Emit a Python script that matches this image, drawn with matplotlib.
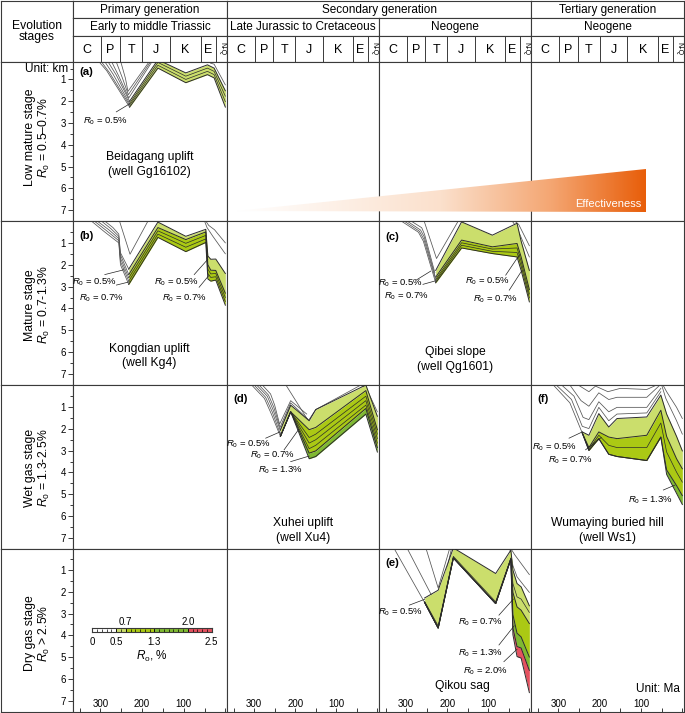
import numpy as np
import matplotlib.pyplot as plt
from matplotlib.colors import LinearSegmentedColormap
from matplotlib.patches import Polygon

plt.rcParams['font.family'] = ['Liberation Sans', 'DejaVu Sans']
plt.rcParams['mathtext.fontset'] = 'custom'
plt.rcParams['mathtext.rm'] = 'Liberation Sans'
plt.rcParams['mathtext.it'] = 'Liberation Sans:italic'

# layout in pixels
W, H = 685, 713
col_x = [73, 227, 379, 531, 684]
row_y = [62, 221, 385, 549, 712]
head_y = [1, 18, 36, 62]
age_lim = (366, -4)
depth_lims = [(7.32, 0.2), (7.3, 0.0), (7.34, 0.0), (7.37, 0.05)]
EDGE = '#3a3a3a'

# header text
generations = ["Primary generation", "Secondary generation", "Tertiary generation"]
gen_span = [(0, 1), (1, 3), (3, 4)]
episodes = ["Early to middle Triassic", "Late Jurassic to Cretaceous", "Neogene", "Neogene"]
periods = ["C", "P", "T", "J", "K", "E", "N-Q"]
period_bounds = [366, 298, 253, 200, 133, 59, 23, -4]

stages = ["Low mature stage", "Mature stage", "Wet gas stage", "Dry gas stage"]
stage_ro = [r"$R_{\rm o}$ = 0.5–0.7%", r"$R_{\rm o}$ = 0.7-1.3%",
            r"$R_{\rm o}$ = 1.3-2.5%", r"$R_{\rm o}$ > 2.5%"]
stage_y = [137, 305, 468, 633]

# Ro colours
c_lo, c_mid, c_gr, c_red = '#cbde6c', '#abc914', '#7fb932', '#e4515f'

# ---- (a) Beidagang uplift, age (Ma) / depth (km)
a_age = [230, 162, 95, 43, 27, 0]
a_ro05 = [2.0, 0.1, 0.7, 0.33, 0.48, 1.52]
a_in1 = [2.1, 0.22, 0.85, 0.48, 0.63, 1.77]
a_in2 = [2.18, 0.35, 1.0, 0.63, 0.78, 2.02]
a_base = [2.27, 0.48, 1.15, 0.78, 0.93, 2.27]
a_strata = [([312, 285, 230], [0.0, 0.6, 2.27]),
            ([305, 278, 230], [0.0, 0.7, 2.18]),
            ([296, 270, 230], [0.0, 0.75, 2.1]),
            ([288, 262, 230], [0.0, 0.8, 2.0]),
            ([278, 256, 232, 170], [0.0, 0.85, 1.85, 0.0]),
            ([266, 248, 233, 173], [0.0, 0.9, 1.7, 0.0]),
            ([254, 240, 234, 176], [0.0, 0.95, 1.55, 0.0]),
            ([46, 36, 27, 0], [0.0, 0.25, 0.3, 1.25])]
a_notes = [("0.5", 289, 2.93, 262, 2.49, 230, 2.12)]

# ---- (b) Kongdian uplift
b_age = [232, 162, 95, 47, 42, 35, 23, 0]
b_ro05 = [2.2, 0.05, 0.7, 0.38, 1.6, 1.75, 1.74, 2.4]
b_ro07 = [2.45, 0.3, 0.85, 0.5, 2.0, 2.25, 2.26, 3.3]
b_in1 = [2.6, 0.45, 1.02, 0.66, 2.2, 2.42, 2.4, 3.5]
b_in2 = [2.75, 0.6, 1.2, 0.82, 2.4, 2.58, 2.55, 3.68]
b_base = [2.9, 0.75, 1.4, 0.98, 2.65, 2.75, 2.7, 3.85]
b_strata = [([322, 290, 256, 252, 232], [0.0, 0.5, 1.0, 2.0, 2.9]),
            ([315, 285, 256, 252, 232], [0.0, 0.45, 0.9, 1.85, 2.75]),
            ([308, 280, 256, 252, 232], [0.0, 0.4, 0.8, 1.7, 2.6]),
            ([298, 275, 256, 252, 232], [0.0, 0.35, 0.7, 1.55, 2.45]),
            ([290, 270, 256, 252, 232], [0.0, 0.3, 0.6, 1.45, 2.2]),
            ([256, 229, 183], [-0.1, 1.52, -0.1]),
            ([50, 44, 30, 0], [0.0, 0.3, 0.7, 1.5]),
            ([47, 40, 26, 0], [0.0, 0.2, 0.4, 1.0])]
b_notes = [("0.5", 313.5, 2.81, 289.6, 2.45, 243.6, 2.23),
           ("0.7", 297.5, 3.52, 261.7, 2.93, 230, 2.78),
           ("0.5", 118.5, 2.81, 74.8, 2.45, 42, 1.75),
           ("0.7", 98.7, 3.52, 63, 3.03, 40, 2.5)]

# ---- (c) Qibei slope
c_age = [228, 165, 90, 30, 20, 0]
c_ro05 = [2.2, 0.04, 0.63, 0.1, 0.9, 2.2]
c_ro07 = [2.5, 0.85, 1.15, 1.0, 1.6, 3.05]
c_in1 = [2.6, 0.97, 1.25, 1.2, 1.8, 3.25]
c_in2 = [2.68, 1.08, 1.35, 1.4, 2.0, 3.42]
c_base = [2.75, 1.2, 1.45, 1.6, 2.2, 3.6]
c_strata = [([312, 270, 258, 228], [0.0, 0.5, 0.9, 2.75]),
            ([305, 268, 257, 228], [0.0, 0.45, 0.8, 2.62]),
            ([298, 265, 256, 229], [0.0, 0.4, 0.7, 2.48]),
            ([288, 262, 255, 230], [0.0, 0.3, 0.6, 2.3]),
            ([258, 226, 170], [-0.1, 1.67, -0.1]),
            ([42, 30, 0], [0.0, 0.3, 1.6]),
            ([36, 26, 0], [0.0, 0.15, 1.1])]
c_notes = [("0.5", 312.5, 2.78, 275.5, 2.63, 240, 2.23),
           ("0.7", 300, 3.34, 259, 2.82, 228, 2.66),
           ("0.5", 102.8, 2.7, 57.6, 2.41, 24, 1.5),
           ("0.7", 82, 3.48, 49, 3.08, 18, 2.2)]

# ---- (d) Xuhei uplift
d_age = [236, 211, 166, 150, 28, 0]
d_ro05 = [2.0, 0.9, 1.6, 1.1, 0.0, 1.4]
d_ro07 = [2.3, 1.2, 2.0, 1.9, 0.25, 2.0]
d_in1 = [2.3, 1.2, 2.35, 2.2, 0.5, 2.2]
d_in2 = [2.3, 1.2, 2.6, 2.45, 0.7, 2.4]
d_in3 = [2.3, 1.2, 2.85, 2.7, 0.9, 2.6]
d_ro13 = [2.3, 1.2, 3.05, 2.95, 1.05, 2.8]
d_base = [2.3, 1.2, 3.3, 3.2, 1.3, 3.0]
d_strata = [([306, 275, 258, 236], [0.0, 0.6, 1.3, 2.3]),
            ([300, 272, 256, 236, 211], [0.0, 0.55, 1.2, 2.2, 1.1]),
            ([294, 268, 254, 236, 211], [0.0, 0.5, 1.1, 2.05, 0.95]),
            ([288, 265, 252, 237, 211, 168], [0.0, 0.45, 1.0, 1.9, 0.8, 1.55]),
            ([280, 260, 250, 238, 211, 172], [0.0, 0.4, 0.9, 1.75, 0.7, 1.3]),
            ([226, 168, 150, 30], [-0.1, 1.6, 1.1, -0.1]),
            ([45, 28, 0], [0.0, 0.1, 1.2])]
d_notes = [("0.5", 312.5, 2.64, 271.8, 2.38, 237, 2.1),
           ("0.7", 255.7, 3.16, 227, 2.9, 192, 2.0),
           ("1.3", 235.3, 3.8, 211, 3.43, 166, 3.18)]

# ---- (e) Qikou sag
e_age = [255, 222, 185, 82, 45, 40, 30, 20, 0]
e_ro05 = [2.25, 1.9, 0.0, 1.15, 0.1, 1.0, 1.6, 1.75, 2.6]
e_ro07 = [2.45, 3.6, 0.45, 2.5, 0.5, 2.0, 2.65, 2.8, 3.4]
e_ro13 = [2.45, 3.6, 0.45, 2.5, 0.5, 3.0, 3.83, 4.0, 4.9]
e_ro20 = [2.45, 3.6, 0.45, 2.5, 0.5, 3.6, 4.43, 4.5, 5.5]
e_base = [2.45, 3.6, 0.45, 2.5, 0.5, 3.9, 4.88, 4.95, 6.5]
e_in1 = [2.4, 3.5, 0.38, 2.42, 0.45, 1.6, 2.2, 2.3, 2.9]
e_strata = [([330, 255], [0.0, 2.45]),
            ([298, 222, 188], [0.0, 2.7, -0.1]),
            ([252, 222, 192], [0.0, 1.8, -0.1]),
            ([48, 40, 30, 0], [0.0, 0.8, 1.3, 2.0]),
            ([46, 36, 0], [0.0, 0.3, 1.2])]
e_notes = [("0.5", 312.5, 2.91, 292, 2.57, 255, 2.31),
           ("0.7", 119, 3.35, 74, 3.02, 39, 2.3),
           ("1.3", 119, 4.74, 74, 4.36, 37, 3.5),
           ("2.0", 107, 5.53, 62, 5.11, 30, 4.55)]

# ---- (f) Wumaying buried hill
f_age = [242, 226, 202, 178, 158, 86, 52, 38, 14, 0]
f_ro05 = [2.1, 2.25, 1.28, 1.88, 1.5, 1.43, 0.45, 1.3, 2.3, 2.95]
f_ro07 = [2.15, 2.8, 2.1, 2.33, 2.4, 2.25, 1.13, 2.3, 3.3, 3.75]
f_in1 = [2.15, 2.87, 2.25, 2.7, 2.8, 2.8, 1.7, 3.0, 3.9, 4.35]
f_ro13 = [2.15, 2.93, 2.4, 3.1, 3.2, 3.38, 2.33, 3.8, 4.5, 4.95]
f_base = [2.15, 2.93, 2.4, 3.1, 3.2, 3.38, 2.33, 4.0, 4.85, 5.35]
f_strata = [([312, 272, 242], [0.0, 0.8, 2.15]),
            ([305, 268, 242, 226, 202, 178, 158, 86, 52], [0.0, 0.65, 1.85, 1.95, 1.0, 1.6, 1.3, 1.25, 0.3]),
            ([292, 262, 240, 226, 202, 178, 158, 86, 52], [0.0, 0.5, 1.45, 1.55, 0.75, 1.2, 1.0, 1.0, 0.15]),
            ([272, 245, 226, 202, 178, 158, 86, 54], [0.0, 0.7, 0.95, 0.35, 0.65, 0.55, 0.55, 0.0]),
            ([252, 226, 210, 180, 150, 86, 62], [0.0, 0.3, 0.05, 0.3, 0.15, 0.2, 0.0]),
            ([50, 40, 14, 0], [0.0, 0.6, 1.6, 2.2]),
            ([47, 38, 14, 0], [0.0, 0.3, 1.0, 1.5])]
f_notes = [("0.5", 310, 2.78, 274, 2.38, 242, 2.1),
           ("0.7", 270, 3.39, 234, 2.9, 196, 2.35),
           ("1.3", 78, 5.16, 46, 4.7, 18, 4.48)]

# Ro scale legend
lg_edges = [0, 0.5, 0.7, 1.3, 2.0, 2.5]
lg_colors = ['white', c_lo, c_mid, c_gr, c_red]
lg_below = [0, 0.5, 1.3, 2.5]
lg_above = [0.7, 2.0]

# effectiveness wedge (figure pixels)
eff_tri = [(236, 211), (646, 169), (646, 212)]
eff_colors = [(0.0, '#ffffff'), (0.5, '#fbe0cc'), (0.77, '#f4a672'), (1.0, '#e85e0a')]

fig = plt.figure(figsize=(W / 100, H / 100), dpi=100)


def box(x0, y0, x1, y1):
    ax = fig.add_axes([x0 / W, 1 - y1 / H, (x1 - x0) / W, (y1 - y0) / H])
    ax.set_xticks([])
    ax.set_yticks([])
    for s in ax.spines.values():
        s.set_color(EDGE)
        s.set_linewidth(0.8)
    return ax


def centre(ax, s, size=8.5, **kw):
    ax.text(0.5, 0.5, s, ha='center', va='center', fontsize=size,
            transform=ax.transAxes, **kw)


# header
ax = box(1, head_y[0], col_x[0], head_y[3])
centre(ax, "Evolution\nstages", size=8.7, linespacing=0.95)
for name, (i0, i1) in zip(generations, gen_span):
    centre(box(col_x[i0], head_y[0], col_x[i1], head_y[1]), name)
for j, name in enumerate(episodes):
    centre(box(col_x[j], head_y[1], col_x[j + 1], head_y[2]), name)
    ax = box(col_x[j], head_y[2], col_x[j + 1], head_y[3])
    ax.set_xlim(age_lim)
    ax.set_ylim(0, 1)
    for b in period_bounds[1:-1]:
        ax.axvline(b, color=EDGE, lw=0.7)
    for k, p in enumerate(periods):
        mid = (period_bounds[k] + period_bounds[k + 1]) / 2
        if p == "N-Q":
            ax.text(mid, 0.5, p, ha='center', va='center', fontsize=5, rotation=270)
        else:
            ax.text(mid, 0.45, p, ha='center', va='center', fontsize=9)

# stage column
for i in range(4):
    box(1, row_y[i], col_x[0], row_y[i + 1])
    fig.text(30 / W, 1 - stage_y[i] / H, stages[i], rotation=90,
             ha='center', va='center', fontsize=8.8)
    fig.text(44 / W, 1 - stage_y[i] / H, stage_ro[i], rotation=90,
             ha='center', va='center', fontsize=8.8)

# panel grid
axes = {}
for i in range(4):
    for j in range(4):
        ax = box(col_x[j], row_y[i], col_x[j + 1], row_y[i + 1])
        ax.set_xlim(age_lim)
        ax.set_ylim(depth_lims[i])
        if j == 0:
            ax.set_yticks(range(1, 8))
            ax.set_yticks(np.arange(0.5, 7.6, 1), minor=True)
            ax.tick_params(axis='y', which='major', direction='out', length=3.5,
                           width=0.7, labelsize=7, pad=1.5, color=EDGE)
            ax.tick_params(axis='y', which='minor', direction='out', length=2,
                           width=0.7, color=EDGE)
        if i == 3:
            ax.set_xticks([300, 200, 100])
            ax.set_xticks([350, 250, 150, 50, 0], minor=True)
            ax.tick_params(axis='x', which='both', direction='in', length=3,
                           width=0.7, labelsize=7, pad=-9.5, color=EDGE)
        axes[(i, j)] = ax


def panel(ax, age, bounds, fills, inner, strata, notes, title, tx, ty, letter, ly):
    for a, d in strata:
        ax.plot(a, d, color='#555555', lw=0.55, zorder=1)
    for k, c in enumerate(fills):
        ax.fill_between(age, bounds[k], bounds[k + 1], color=c, lw=0, zorder=2)
    for d in inner:
        ax.plot(age, d, color='#2b2b2b', lw=0.5, zorder=3)
    for d in bounds:
        ax.plot(age, d, color='#2b2b2b', lw=0.7, zorder=3)
    for v, nx, ny, x0, y0, x1, y1 in notes:
        ax.text(nx, ny, r"$R_{\rm o}$ = " + v + "%", fontsize=6.8,
                ha='center', va='center', zorder=5)
        ax.plot([x0, x1], [y0, y1], color='#222222', lw=0.5, zorder=5)
    ax.text(tx, ty, title, ha='center', va='center', fontsize=8.7, linespacing=1.3)
    ax.annotate(letter, xy=(0, ly), xycoords='axes fraction', xytext=(4.5, 0),
                textcoords='offset points', fontsize=8.2, fontweight='bold',
                ha='left', va='center')


panel(axes[(0, 0)], a_age, [a_ro05, a_base], [c_lo], [a_in1, a_in2], a_strata,
      a_notes, "Beidagang uplift\n(well Gg16102)", 182, 4.9, "(a)", 0.939)
panel(axes[(1, 0)], b_age, [b_ro05, b_ro07, b_base], [c_lo, c_mid], [b_in1, b_in2],
      b_strata, b_notes, "Kongdian uplift\n(well Kg4)", 182, 6.17, "(b)", 0.909)
panel(axes[(1, 2)], c_age, [c_ro05, c_ro07, c_base], [c_lo, c_mid], [c_in1, c_in2],
      c_strata, c_notes, "Qibei slope\n(well Qg1601)", 181, 6.17, "(c)", 0.905)
panel(axes[(2, 1)], d_age, [d_ro05, d_ro07, d_ro13, d_base], [c_lo, c_mid, c_gr],
      [d_in1, d_in2, d_in3], d_strata, d_notes, "Xuhei uplift\n(well Xu4)",
      181, 6.5, "(d)", 0.915)
panel(axes[(3, 2)], e_age, [e_ro05, e_ro07, e_ro13, e_ro20, e_base],
      [c_lo, c_mid, c_gr, c_red], [e_in1], e_strata, e_notes, "Qikou sag",
      163, 6.2, "(e)", 0.917)
panel(axes[(2, 3)], f_age, [f_ro05, f_ro07, f_ro13, f_base], [c_lo, c_mid, c_gr],
      [f_in1], f_strata, f_notes, "Wumaying buried hill\n(well Ws1)",
      181, 6.5, "(f)", 0.915)

# Ro scale legend
lg = box(92.3, 627.7, 211.7, 632.3)
lg.bar(lg_edges[:-1], 1, width=np.diff(lg_edges), align='edge', color=lg_colors,
       edgecolor='#222222', lw=0.6)
lg.set_xlim(0, 2.5)
lg.set_ylim(0, 1)
lg.set_xticks(lg_below)
lg.set_xticklabels(["0", "0.5", "1.3", "2.5"])
lg.set_xticks(np.arange(0, 2.51, 0.1), minor=True)
lg.tick_params(axis='x', which='both', direction='in', length=2.5, width=0.5,
               labelsize=7, pad=3.5)
for v in lg_above:
    lg.text(v, 1.25, f"{v:.1f}", ha='center', va='bottom', fontsize=7,
            transform=lg.get_xaxis_transform())
fig.text(151.7 / W, 1 - 656.7 / H, r"$R_{\rm o}$, %", ha='center', va='center', fontsize=8.5)

# unit labels
fig.text(68 / W, 1 - 68.5 / H, "Unit: km", ha='right', va='center', fontsize=8.5)
fig.text(680 / W, 1 - 689 / H, "Unit: Ma", ha='right', va='center', fontsize=8.5)

# effectiveness wedge
ov = fig.add_axes([0, 0, 1, 1], zorder=10)
ov.patch.set_alpha(0)
ov.axis('off')
tri = Polygon(eff_tri, closed=True, facecolor='none', edgecolor='none')
ov.add_patch(tri)
xs = [p[0] for p in eff_tri]
ys = [p[1] for p in eff_tri]
cmap = LinearSegmentedColormap.from_list('eff', eff_colors)
im = ov.imshow(np.linspace(0, 1, 256).reshape(1, -1), cmap=cmap, aspect='auto',
               extent=[min(xs), max(xs), max(ys), min(ys)], interpolation='bilinear')
im.set_clip_path(tri)
ov.set_xlim(0, W)
ov.set_ylim(H, 0)
ov.text(608, 204, "Effectiveness", color='white', fontsize=8, ha='center', va='center')

fig.savefig('out.png', dpi=100)
